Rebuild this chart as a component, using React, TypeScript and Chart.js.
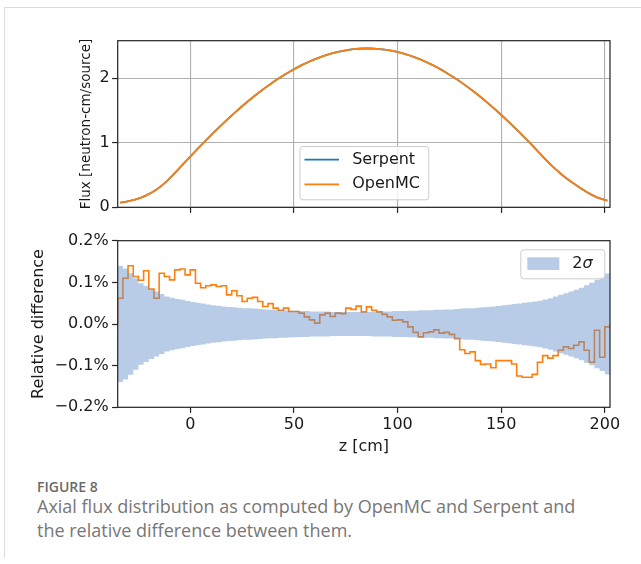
import React, { useEffect, useRef } from 'react';
import { Chart, registerables } from 'chart.js';

Chart.register(...registerables);

// ---- data (bins of 2.5 cm from z = -35 cm to 202.5 cm) ----
const zStart = -35;
const binWidth = 2.5;
const zEnd = 202.5;

const serpentFlux = [
  0.074, 0.085, 0.102, 0.122, 0.150, 0.185, 0.226, 0.275, 0.335, 0.405,
  0.486, 0.572, 0.658, 0.744, 0.826, 0.912, 0.994, 1.076, 1.157, 1.235,
  1.311, 1.386, 1.458, 1.530, 1.599, 1.666, 1.731, 1.793, 1.853, 1.911,
  1.966, 2.018, 2.068, 2.115, 2.159, 2.201, 2.239, 2.275, 2.307, 2.337,
  2.363, 2.386, 2.407, 2.424, 2.437, 2.448, 2.455, 2.459, 2.460, 2.457,
  2.451, 2.442, 2.430, 2.414, 2.395, 2.372, 2.347, 2.318, 2.286, 2.251,
  2.213, 2.172, 2.128, 2.081, 2.031, 1.978, 1.923, 1.865, 1.805, 1.742,
  1.677, 1.609, 1.540, 1.468, 1.394, 1.319, 1.242, 1.163, 1.083, 1.001,
  0.917, 0.832, 0.747, 0.665, 0.590, 0.520, 0.455, 0.395, 0.340, 0.288,
  0.238, 0.192, 0.155, 0.128, 0.104,
];

const openmcFlux = [
  0.074, 0.085, 0.102, 0.122, 0.150, 0.185, 0.226, 0.275, 0.335, 0.405,
  0.486, 0.572, 0.658, 0.744, 0.826, 0.912, 0.994, 1.076, 1.157, 1.235,
  1.311, 1.386, 1.458, 1.530, 1.599, 1.666, 1.731, 1.793, 1.853, 1.911,
  1.966, 2.018, 2.068, 2.115, 2.159, 2.201, 2.239, 2.275, 2.307, 2.337,
  2.363, 2.386, 2.407, 2.424, 2.437, 2.448, 2.455, 2.459, 2.460, 2.457,
  2.451, 2.442, 2.430, 2.414, 2.395, 2.372, 2.347, 2.318, 2.286, 2.251,
  2.213, 2.172, 2.128, 2.081, 2.031, 1.978, 1.923, 1.865, 1.805, 1.742,
  1.677, 1.609, 1.540, 1.468, 1.394, 1.319, 1.242, 1.163, 1.083, 1.001,
  0.917, 0.832, 0.747, 0.665, 0.590, 0.520, 0.455, 0.395, 0.340, 0.288,
  0.238, 0.192, 0.155, 0.128, 0.104,
];

// relative difference, percent
const relDiff = [
  0.062, 0.110, 0.140, 0.114, 0.105, 0.128, 0.084, 0.062, 0.122, 0.114,
  0.106, 0.130, 0.132, 0.118, 0.130, 0.098, 0.087, 0.092, 0.094, 0.090,
  0.092, 0.070, 0.080, 0.068, 0.054, 0.062, 0.064, 0.054, 0.042, 0.049,
  0.038, 0.033, 0.038, 0.030, 0.030, 0.026, 0.017, 0.010, 0.002, 0.022,
  0.026, 0.018, 0.026, 0.025, 0.038, 0.035, 0.043, 0.029, 0.041, 0.033,
  0.029, 0.023, 0.017, 0.009, 0.010, 0.005, -0.007, -0.020, -0.031, -0.021,
  -0.019, -0.014, -0.022, -0.020, -0.025, -0.035, -0.062, -0.071, -0.067, -0.088,
  -0.097, -0.096, -0.105, -0.088, -0.088, -0.088, -0.096, -0.125, -0.128, -0.128,
  -0.121, -0.092, -0.076, -0.082, -0.076, -0.063, -0.055, -0.059, -0.051, -0.043,
  -0.063, -0.092, -0.015, -0.080, -0.007,
];

// 2 sigma uncertainty, percent
const twoSigma = [
  0.139, 0.133, 0.122, 0.110, 0.098, 0.091, 0.084, 0.078, 0.072, 0.066,
  0.063, 0.060, 0.058, 0.055, 0.053, 0.051, 0.049, 0.047, 0.045, 0.044,
  0.042, 0.041, 0.040, 0.039, 0.038, 0.038, 0.037, 0.036, 0.035, 0.034,
  0.034, 0.033, 0.033, 0.032, 0.032, 0.031, 0.031, 0.030, 0.030, 0.030,
  0.030, 0.029, 0.029, 0.029, 0.029, 0.029, 0.029, 0.029, 0.029, 0.030,
  0.030, 0.030, 0.030, 0.031, 0.031, 0.031, 0.032, 0.032, 0.033, 0.033,
  0.033, 0.034, 0.034, 0.035, 0.035, 0.036, 0.037, 0.038, 0.038, 0.039,
  0.040, 0.041, 0.042, 0.043, 0.045, 0.046, 0.048, 0.049, 0.051, 0.052,
  0.054, 0.056, 0.059, 0.062, 0.066, 0.070, 0.074, 0.078, 0.082, 0.087,
  0.093, 0.099, 0.106, 0.113, 0.121,
];

const xTicks = [0, 50, 100, 150, 200];
const fluxTicks = [0, 1, 2];
const fluxMax = 2.58;
const relTicks = [-0.2, -0.1, 0, 0.1, 0.2];
const relTickLabels = ['\u22120.2%', '\u22120.1%', '0.0%', '0.1%', '0.2%'];

const fluxAxisTitle = 'Flux [neutron-cm/source]';
const relAxisTitle = 'Relative difference';
const zAxisTitle = 'z [cm]';
const bandLabel = '2\u03c3';

// ---- styles ----
const FONT = "'DejaVu Sans', sans-serif";
const BLUE = '#1f77b4';
const ORANGE = '#ff7f0e';
const BAND = 'rgba(98, 142, 205, 0.45)';
const INK = '#1a1a1a';
const SPINE = '#222222';

function stairs(values: number[], baseline: boolean) {
  const pts: { x: number; y: number }[] = [];
  const end = zStart + values.length * binWidth;
  if (baseline) pts.push({ x: zStart, y: 0 });
  values.forEach((v, i) => pts.push({ x: zStart + i * binWidth, y: v }));
  pts.push({ x: end, y: values[values.length - 1] });
  if (baseline) pts.push({ x: end, y: 0 });
  return pts;
}

function centers(values: number[]) {
  return values.map((v, i) => ({ x: zStart + (i + 0.5) * binWidth, y: v }));
}

const framePlugin = {
  id: 'frame',
  afterDraw(chart: any) {
    const { ctx, chartArea: a } = chart;
    ctx.save();
    ctx.strokeStyle = SPINE;
    ctx.lineWidth = 1.2;
    ctx.strokeRect(a.left, a.top, a.right - a.left, a.bottom - a.top);
    ctx.restore();
  },
};

function legendBox(ctx: CanvasRenderingContext2D, x: number, y: number, w: number, h: number) {
  ctx.beginPath();
  if ((ctx as any).roundRect) (ctx as any).roundRect(x + 0.5, y + 0.5, w, h, 3);
  else ctx.rect(x + 0.5, y + 0.5, w, h);
  ctx.fillStyle = 'rgba(255,255,255,0.8)';
  ctx.fill();
  ctx.strokeStyle = '#cccccc';
  ctx.lineWidth = 1;
  ctx.stroke();
}

const fluxLegend = {
  id: 'fluxLegend',
  afterDraw(chart: any) {
    const { ctx, chartArea: a } = chart;
    const w = 128.8, h = 53.3;
    const x0 = (a.left + a.right) / 2 - w / 2;
    const y0 = a.bottom - 8 - h;
    ctx.save();
    legendBox(ctx, x0, y0, w, h);
    chart.data.datasets.forEach((ds: any, i: number) => {
      const yy = y0 + 13.6 + i * 24.7;
      ctx.strokeStyle = ds.borderColor;
      ctx.lineWidth = 1.8;
      ctx.beginPath();
      ctx.moveTo(x0 + 5, yy);
      ctx.lineTo(x0 + 39.6, yy);
      ctx.stroke();
      ctx.fillStyle = INK;
      ctx.font = `16px ${FONT}`;
      ctx.textBaseline = 'middle';
      ctx.textAlign = 'left';
      ctx.fillText(ds.label, x0 + 52.7, yy);
    });
    ctx.restore();
  },
};

const bandLegend = {
  id: 'bandLegend',
  afterDraw(chart: any) {
    const { ctx, chartArea: a } = chart;
    const ds = chart.data.datasets[1];
    const w = 84, h = 29;
    const x0 = a.right - 5.7 - w;
    const y0 = a.top + 8.6;
    ctx.save();
    legendBox(ctx, x0, y0, w, h);
    ctx.fillStyle = ds.backgroundColor;
    ctx.fillRect(x0 + 7, y0 + 8, 32, 12.7);
    const label: string = ds.label;
    const head = label.slice(0, -1);
    const tail = label.slice(-1);
    ctx.fillStyle = INK;
    ctx.textBaseline = 'middle';
    ctx.textAlign = 'left';
    ctx.font = `16px ${FONT}`;
    const yy = y0 + 14.5;
    ctx.fillText(head, x0 + 52, yy);
    const hw = ctx.measureText(head).width;
    ctx.font = `italic 16px ${FONT}`;
    ctx.fillText(tail, x0 + 52 + hw, yy);
    ctx.restore();
  },
};

function xScale(height: number, showLabels: boolean, title?: string) {
  return {
    type: 'linear' as const,
    min: zStart,
    max: zEnd,
    afterBuildTicks: (s: any) => {
      s.ticks = xTicks.map((v) => ({ value: v }));
    },
    afterFit: (s: any) => {
      s.height = height;
      s.paddingLeft = 0;
      s.paddingRight = 0;
    },
    border: { display: false },
    grid: {
      display: true,
      drawOnChartArea: !showLabels,
      color: '#b0b0b0',
      lineWidth: 1.1,
      drawTicks: true,
      tickLength: 5.6,
      tickColor: SPINE,
      tickWidth: 1.2,
    },
    ticks: {
      display: showLabels,
      padding: 2,
      color: INK,
      font: { family: FONT, size: 16 },
      maxRotation: 0,
      autoSkip: false,
      callback: (v: any) => String(v),
    },
    title: title
      ? {
          display: true,
          text: title,
          color: INK,
          font: { family: FONT, size: 16 },
          padding: { top: 0, bottom: 3.7 },
        }
      : { display: false },
  };
}

export default function App() {
  const topRef = useRef<HTMLCanvasElement>(null);
  const botRef = useRef<HTMLCanvasElement>(null);

  useEffect(() => {
    document.body.style.margin = '0';

    const c1 = new Chart(topRef.current as HTMLCanvasElement, {
      type: 'line',
      data: {
        datasets: [
          {
            label: 'Serpent',
            data: centers(serpentFlux),
            borderColor: BLUE,
            borderWidth: 1.8,
            pointRadius: 0,
            tension: 0,
            fill: false,
            order: 1,
          },
          {
            label: 'OpenMC',
            data: centers(openmcFlux),
            borderColor: ORANGE,
            borderWidth: 1.8,
            pointRadius: 0,
            tension: 0,
            fill: false,
            order: 0,
          },
        ],
      },
      options: {
        animation: false,
        responsive: false,
        maintainAspectRatio: false,
        events: [],
        layout: { padding: { left: 0, right: 31, top: 40.7, bottom: 0 } },
        plugins: { legend: { display: false }, tooltip: { enabled: false } },
        scales: {
          x: xScale(7.7, false),
          y: {
            type: 'linear',
            min: 0,
            max: fluxMax,
            afterBuildTicks: (s: any) => {
              s.ticks = fluxTicks.map((v) => ({ value: v }));
            },
            afterFit: (s: any) => {
              s.width = 117.7;
              s.paddingTop = 0;
              s.paddingBottom = 0;
            },
            border: { display: false },
            grid: {
              color: '#b0b0b0',
              lineWidth: 1.1,
              drawTicks: true,
              tickLength: 5.6,
              tickColor: SPINE,
              tickWidth: 1.2,
            },
            ticks: {
              padding: 2.5,
              color: INK,
              font: { family: FONT, size: 16 },
              callback: (v: any) => String(v),
            },
            title: {
              display: true,
              text: fluxAxisTitle,
              color: INK,
              font: { family: FONT, size: 13.5 },
              padding: { top: 78, bottom: 0 },
            },
          },
        },
      } as any,
      plugins: [framePlugin, fluxLegend],
    });

    const c2 = new Chart(botRef.current as HTMLCanvasElement, {
      type: 'line',
      data: {
        datasets: [
          {
            label: 'OpenMC vs Serpent',
            data: stairs(relDiff, true),
            borderColor: ORANGE,
            borderWidth: 1.6,
            stepped: 'before',
            pointRadius: 0,
            fill: false,
            order: 2,
          },
          {
            label: bandLabel,
            data: stairs(twoSigma, false),
            borderColor: 'rgba(0,0,0,0)',
            borderWidth: 0,
            backgroundColor: BAND,
            stepped: 'before',
            pointRadius: 0,
            fill: '+1',
            order: 1,
          },
          {
            label: '-2\u03c3',
            data: stairs(twoSigma.map((v) => -v), false),
            borderColor: 'rgba(0,0,0,0)',
            borderWidth: 0,
            stepped: 'before',
            pointRadius: 0,
            fill: false,
            order: 0,
          },
        ],
      },
      options: {
        animation: false,
        responsive: false,
        maintainAspectRatio: false,
        events: [],
        layout: { padding: { left: 0, right: 31, top: 25.7, bottom: 0 } },
        plugins: {
          legend: { display: false },
          tooltip: { enabled: false },
          filler: { propagate: false, drawTime: 'beforeDatasetDraw' },
        },
        scales: {
          x: xScale(52.7, true, zAxisTitle),
          y: {
            type: 'linear',
            min: relTicks[0],
            max: relTicks[relTicks.length - 1],
            afterBuildTicks: (s: any) => {
              s.ticks = relTicks.map((v) => ({ value: v }));
            },
            afterFit: (s: any) => {
              s.width = 117.7;
              s.paddingTop = 0;
              s.paddingBottom = 0;
            },
            border: { display: false },
            grid: {
              display: true,
              drawOnChartArea: false,
              drawTicks: true,
              tickLength: 5.6,
              tickColor: SPINE,
              tickWidth: 1.2,
            },
            ticks: {
              padding: 3.5,
              color: INK,
              font: { family: FONT, size: 16 },
              callback: (v: any) => {
                const k = relTicks.findIndex((t) => Math.abs(t - v) < 1e-9);
                return k >= 0 ? relTickLabels[k] : '';
              },
            },
            title: {
              display: true,
              text: relAxisTitle,
              color: INK,
              font: { family: FONT, size: 16 },
              padding: { top: 29.6, bottom: 0 },
            },
          },
        },
      } as any,
      plugins: [framePlugin, bandLegend],
    });

    return () => {
      c1.destroy();
      c2.destroy();
    };
  }, []);

  const capFont = "'Open Sans', 'Noto Sans', sans-serif";

  return (
    <div
      style={{
        position: 'fixed',
        left: 0,
        top: 0,
        width: 641,
        height: 564,
        background: '#ffffff',
        overflow: 'hidden',
      }}
    >
      <div
        style={{
          position: 'absolute',
          left: 4,
          top: 7,
          width: 700,
          height: 550,
          borderTop: '1px solid #dcdcdc',
          borderLeft: '1px solid #dcdcdc',
        }}
      />
      <canvas
        ref={topRef}
        width={641}
        height={215}
        style={{ position: 'absolute', left: 0, top: 0, display: 'block' }}
      />
      <canvas
        ref={botRef}
        width={641}
        height={245}
        style={{ position: 'absolute', left: 0, top: 215, display: 'block' }}
      />
      <div
        style={{
          position: 'absolute',
          left: 37,
          top: 477,
          fontFamily: capFont,
          fontSize: 14,
          lineHeight: '20px',
          fontWeight: 600,
          color: '#6a6a6a',
          whiteSpace: 'nowrap',
        }}
      >
        FIGURE 8
      </div>
      <div
        style={{
          position: 'absolute',
          left: 37,
          top: 494,
          fontFamily: capFont,
          fontSize: 18,
          lineHeight: '24px',
          color: '#777777',
          whiteSpace: 'nowrap',
        }}
      >
        <div>Axial flux distribution as computed by OpenMC and Serpent and</div>
        <div>the relative difference between them.</div>
      </div>
    </div>
  );
}
